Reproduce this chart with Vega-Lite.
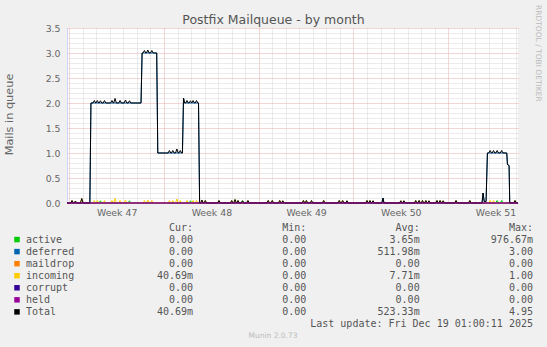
{
  "$schema": "https://vega.github.io/schema/vega-lite/v6.json",
  "width": 451,
  "height": 175,
  "autosize": {"type": "none"},
  "padding": {"left": 67, "top": 28, "right": 29, "bottom": 144},
  "background": "#f0f0f0",
  "config": {
    "view": {"fill": "#ffffff", "stroke": null},
    "font": "DejaVu Sans"
  },
  "title": {
    "text": "Postfix Mailqueue - by month",
    "font": "DejaVu Sans",
    "fontSize": 12.5,
    "fontWeight": "normal",
    "color": "#555555",
    "anchor": "middle",
    "frame": "group",
    "dx": -19,
    "dy": 31,
    "offset": 0,
    "baseline": "alphabetic"
  },
  "layer": [
    {
      "data": {
        "values": [
          {"d": -0.17, "Total": 0, "active": 0, "deferred": 0, "maildrop": 0, "incoming": 0, "corrupt": 0, "held": 0},
          {"d": 0.1, "Total": 0, "incoming": 0}, {"d": 0.2, "Total": 0.05, "incoming": 0.05}, {"d": 0.3, "Total": 0, "incoming": 0},
          {"d": 0.35, "Total": 0, "incoming": 0}, {"d": 0.45, "Total": 0.04, "incoming": 0.04}, {"d": 0.55, "Total": 0, "incoming": 0},
          {"d": 0.82, "Total": 0, "incoming": 0}, {"d": 0.92, "Total": 0.09, "incoming": 0.09}, {"d": 1.02, "Total": 0, "incoming": 0},
          {"d": 1.52, "Total": 0, "deferred": 0}, {"d": 1.6, "Total": 2, "deferred": 2},
          {"d": 1.75, "Total": 2, "incoming": 0}, {"d": 1.85, "Total": 2.05, "incoming": 0.05}, {"d": 1.95, "Total": 2, "incoming": 0},
          {"d": 1.97, "Total": 2, "incoming": 0}, {"d": 2.07, "Total": 2.05, "incoming": 0.05}, {"d": 2.17, "Total": 2, "incoming": 0},
          {"d": 2.2, "Total": 2, "active": 0}, {"d": 2.3, "Total": 2.045, "active": 0.045}, {"d": 2.4, "Total": 2, "active": 0},
          {"d": 2.5, "Total": 2, "incoming": 0}, {"d": 2.6, "Total": 2.05, "incoming": 0.05}, {"d": 2.7, "Total": 2, "incoming": 0},
          {"d": 3.05, "Total": 2, "incoming": 0}, {"d": 3.15, "Total": 2.05, "incoming": 0.05}, {"d": 3.25, "Total": 2, "incoming": 0},
          {"d": 3.28, "Total": 2, "incoming": 0}, {"d": 3.38, "Total": 2.09, "incoming": 0.09}, {"d": 3.48, "Total": 2, "incoming": 0},
          {"d": 3.65, "Total": 2, "incoming": 0}, {"d": 3.75, "Total": 2.05, "incoming": 0.05}, {"d": 3.85, "Total": 2, "incoming": 0},
          {"d": 4.05, "Total": 2, "incoming": 0}, {"d": 4.15, "Total": 2.06, "incoming": 0.06}, {"d": 4.25, "Total": 2, "incoming": 0},
          {"d": 4.35, "Total": 2, "active": 0}, {"d": 4.45, "Total": 2.045, "active": 0.045}, {"d": 4.55, "Total": 2, "active": 0},
          {"d": 5.3, "Total": 2, "deferred": 2}, {"d": 5.38, "Total": 3, "deferred": 3},
          {"d": 5.45, "Total": 3, "incoming": 0}, {"d": 5.55, "Total": 3.05, "incoming": 0.05}, {"d": 5.65, "Total": 3, "incoming": 0},
          {"d": 5.7, "Total": 3, "incoming": 0}, {"d": 5.8, "Total": 3.06, "incoming": 0.06}, {"d": 5.9, "Total": 3, "incoming": 0},
          {"d": 6.0, "Total": 3, "incoming": 0}, {"d": 6.1, "Total": 3.05, "incoming": 0.05}, {"d": 6.2, "Total": 3, "incoming": 0},
          {"d": 6.46, "Total": 3, "deferred": 3}, {"d": 6.54, "Total": 1, "deferred": 1},
          {"d": 7.3, "Total": 1, "incoming": 0}, {"d": 7.4, "Total": 1.05, "incoming": 0.05}, {"d": 7.5, "Total": 1, "incoming": 0},
          {"d": 7.55, "Total": 1, "incoming": 0}, {"d": 7.65, "Total": 1.05, "incoming": 0.05}, {"d": 7.75, "Total": 1, "incoming": 0},
          {"d": 7.85, "Total": 1, "incoming": 0}, {"d": 7.95, "Total": 1.08, "incoming": 0.08}, {"d": 8.05, "Total": 1, "incoming": 0},
          {"d": 8.1, "Total": 1, "incoming": 0}, {"d": 8.2, "Total": 1.05, "incoming": 0.05}, {"d": 8.3, "Total": 1, "incoming": 0},
          {"d": 8.36, "Total": 1, "deferred": 1}, {"d": 8.44, "Total": 2.1, "deferred": 2.1}, {"d": 8.52, "Total": 2, "deferred": 2},
          {"d": 8.6, "Total": 2, "incoming": 0}, {"d": 8.7, "Total": 2.05, "incoming": 0.05}, {"d": 8.8, "Total": 2, "incoming": 0},
          {"d": 8.85, "Total": 2, "active": 0}, {"d": 8.95, "Total": 2.045, "active": 0.045}, {"d": 9.05, "Total": 2, "active": 0, "incoming": 0},
          {"d": 9.15, "Total": 2.05, "incoming": 0.05}, {"d": 9.25, "Total": 2, "incoming": 0},
          {"d": 9.3, "Total": 2, "incoming": 0}, {"d": 9.4, "Total": 2.05, "incoming": 0.05}, {"d": 9.5, "Total": 2, "incoming": 0},
          {"d": 9.55, "Total": 2, "deferred": 2}, {"d": 9.63, "Total": 0, "deferred": 0},
          {"d": 9.7, "Total": 0, "incoming": 0}, {"d": 9.8, "Total": 0.06, "incoming": 0.06}, {"d": 9.9, "Total": 0, "incoming": 0},
          {"d": 9.95, "Total": 0, "incoming": 0}, {"d": 10.05, "Total": 0.05, "incoming": 0.05}, {"d": 10.15, "Total": 0, "incoming": 0},
          {"d": 10.96, "Total": 0, "incoming": 0}, {"d": 11.06, "Total": 0.05, "incoming": 0.05}, {"d": 11.16, "Total": 0, "incoming": 0},
          {"d": 11.9, "Total": 0, "incoming": 0}, {"d": 12.0, "Total": 0.05, "incoming": 0.05}, {"d": 12.1, "Total": 0, "incoming": 0},
          {"d": 12.15, "Total": 0, "incoming": 0}, {"d": 12.25, "Total": 0.07, "incoming": 0.07}, {"d": 12.35, "Total": 0, "incoming": 0},
          {"d": 12.37, "Total": 0, "incoming": 0}, {"d": 12.47, "Total": 0.05, "incoming": 0.05}, {"d": 12.57, "Total": 0, "incoming": 0},
          {"d": 12.7, "Total": 0, "active": 0}, {"d": 12.8, "Total": 0.045, "active": 0.045}, {"d": 12.9, "Total": 0, "active": 0},
          {"d": 13.1, "Total": 0, "incoming": 0}, {"d": 13.2, "Total": 0.05, "incoming": 0.05}, {"d": 13.3, "Total": 0, "incoming": 0},
          {"d": 14.6, "Total": 0, "incoming": 0}, {"d": 14.7, "Total": 0.05, "incoming": 0.05}, {"d": 14.8, "Total": 0, "incoming": 0},
          {"d": 14.9, "Total": 0, "incoming": 0}, {"d": 15.0, "Total": 0.05, "incoming": 0.05}, {"d": 15.1, "Total": 0, "incoming": 0},
          {"d": 15.45, "Total": 0, "incoming": 0}, {"d": 15.55, "Total": 0.05, "incoming": 0.05}, {"d": 15.65, "Total": 0, "incoming": 0},
          {"d": 15.68, "Total": 0, "incoming": 0}, {"d": 15.78, "Total": 0.045, "incoming": 0.045}, {"d": 15.88, "Total": 0, "incoming": 0},
          {"d": 17.2, "Total": 0, "incoming": 0}, {"d": 17.3, "Total": 0.05, "incoming": 0.05}, {"d": 17.4, "Total": 0, "incoming": 0},
          {"d": 17.42, "Total": 0, "incoming": 0}, {"d": 17.52, "Total": 0.05, "incoming": 0.05}, {"d": 17.62, "Total": 0, "incoming": 0},
          {"d": 17.8, "Total": 0, "incoming": 0}, {"d": 17.9, "Total": 0.05, "incoming": 0.05}, {"d": 18.0, "Total": 0, "incoming": 0},
          {"d": 18.7, "Total": 0, "incoming": 0}, {"d": 18.8, "Total": 0.05, "incoming": 0.05}, {"d": 18.9, "Total": 0, "incoming": 0},
          {"d": 19.85, "Total": 0, "incoming": 0}, {"d": 19.95, "Total": 0.05, "incoming": 0.05}, {"d": 20.05, "Total": 0, "incoming": 0},
          {"d": 20.1, "Total": 0, "incoming": 0}, {"d": 20.2, "Total": 0.05, "incoming": 0.05}, {"d": 20.3, "Total": 0, "incoming": 0},
          {"d": 20.42, "Total": 0, "incoming": 0}, {"d": 20.52, "Total": 0.045, "incoming": 0.045}, {"d": 20.62, "Total": 0, "incoming": 0},
          {"d": 21.9, "Total": 0, "incoming": 0}, {"d": 22.0, "Total": 0.05, "incoming": 0.05}, {"d": 22.1, "Total": 0, "incoming": 0},
          {"d": 22.12, "Total": 0, "incoming": 0}, {"d": 22.22, "Total": 0.05, "incoming": 0.05}, {"d": 22.32, "Total": 0, "incoming": 0},
          {"d": 22.35, "Total": 0, "incoming": 0}, {"d": 22.45, "Total": 0.045, "incoming": 0.045}, {"d": 22.55, "Total": 0, "incoming": 0},
          {"d": 23.1, "Total": 0, "deferred": 0}, {"d": 23.18, "Total": 0.1, "deferred": 0.1}, {"d": 23.26, "Total": 0, "deferred": 0},
          {"d": 24.4, "Total": 0, "incoming": 0}, {"d": 24.5, "Total": 0.045, "incoming": 0.045}, {"d": 24.6, "Total": 0, "incoming": 0},
          {"d": 24.63, "Total": 0, "incoming": 0}, {"d": 24.73, "Total": 0.045, "incoming": 0.045}, {"d": 24.83, "Total": 0, "incoming": 0},
          {"d": 25.5, "Total": 0, "incoming": 0}, {"d": 25.6, "Total": 0.05, "incoming": 0.05}, {"d": 25.7, "Total": 0, "incoming": 0},
          {"d": 25.75, "Total": 0, "incoming": 0}, {"d": 25.85, "Total": 0.05, "incoming": 0.05}, {"d": 25.95, "Total": 0, "incoming": 0},
          {"d": 26.0, "Total": 0, "incoming": 0}, {"d": 26.1, "Total": 0.05, "incoming": 0.05}, {"d": 26.2, "Total": 0, "incoming": 0},
          {"d": 26.25, "Total": 0, "incoming": 0}, {"d": 26.35, "Total": 0.05, "incoming": 0.05}, {"d": 26.45, "Total": 0, "incoming": 0},
          {"d": 26.48, "Total": 0, "incoming": 0}, {"d": 26.58, "Total": 0.045, "incoming": 0.045}, {"d": 26.68, "Total": 0, "incoming": 0},
          {"d": 27.07, "Total": 0, "incoming": 0}, {"d": 27.17, "Total": 0.05, "incoming": 0.05}, {"d": 27.27, "Total": 0, "incoming": 0},
          {"d": 27.3, "Total": 0, "incoming": 0}, {"d": 27.4, "Total": 0.05, "incoming": 0.05}, {"d": 27.5, "Total": 0, "incoming": 0},
          {"d": 27.53, "Total": 0, "incoming": 0}, {"d": 27.63, "Total": 0.045, "incoming": 0.045}, {"d": 27.73, "Total": 0, "incoming": 0},
          {"d": 28.48, "Total": 0, "incoming": 0}, {"d": 28.58, "Total": 0.05, "incoming": 0.05}, {"d": 28.68, "Total": 0, "incoming": 0},
          {"d": 29.5, "Total": 0, "incoming": 0}, {"d": 29.6, "Total": 0.05, "incoming": 0.05}, {"d": 29.7, "Total": 0, "incoming": 0},
          {"d": 30.5, "Total": 0, "deferred": 0}, {"d": 30.58, "Total": 0.2, "deferred": 0.2}, {"d": 30.66, "Total": 0.03, "deferred": 0.03},
          {"d": 30.8, "Total": 0.03, "deferred": 0.03}, {"d": 30.9, "Total": 1, "deferred": 1},
          {"d": 31.0, "Total": 1, "incoming": 0}, {"d": 31.1, "Total": 1.05, "incoming": 0.05}, {"d": 31.2, "Total": 1, "incoming": 0},
          {"d": 31.25, "Total": 1, "incoming": 0}, {"d": 31.35, "Total": 1.05, "incoming": 0.05}, {"d": 31.45, "Total": 1, "incoming": 0},
          {"d": 31.52, "Total": 1, "active": 0}, {"d": 31.62, "Total": 1.05, "active": 0.05}, {"d": 31.72, "Total": 1, "active": 0},
          {"d": 31.85, "Total": 1, "active": 0}, {"d": 31.95, "Total": 1.05, "active": 0.05}, {"d": 32.05, "Total": 1, "active": 0},
          {"d": 32.33, "Total": 1, "deferred": 1}, {"d": 32.38, "Total": 0.77, "deferred": 0.77}, {"d": 32.5, "Total": 0.75, "deferred": 0.75},
          {"d": 32.55, "Total": 0, "deferred": 0},
          {"d": 32.84, "Total": 0, "incoming": 0}, {"d": 32.94, "Total": 0.05, "incoming": 0.05}, {"d": 33.04, "Total": 0, "incoming": 0},
          {"d": 33.16, "Total": 0, "active": 0, "deferred": 0, "maildrop": 0, "incoming": 0, "corrupt": 0, "held": 0}
        ]
      },
      "transform": [
        {"fold": ["active", "deferred", "maildrop", "incoming", "corrupt", "held", "Total"], "as": ["s", "v"]}
      ],
      "encoding": {
        "x": {
          "field": "d",
          "type": "quantitative",
          "scale": {"domain": [-0.17, 33.16], "nice": false, "zero": false},
          "axis": {
            "title": null,
            "values": [0, 1, 2, 3, 3.5, 4, 5, 6, 7, 8, 9, 10, 10.5, 11, 12, 13, 14, 15, 16, 17, 17.5, 18, 19, 20, 21, 22, 23, 24, 24.5, 25, 26, 27, 28, 29, 30, 31, 31.5, 32, 33],
            "labelExpr": "datum.value % 7 === 3.5 ? 'Week ' + (47 + floor(datum.value / 7)) : ''",
            "labelOverlap": false,
            "labelFlush": false,
            "labelBound": false,
            "labelFont": "DejaVu Sans",
            "labelFontSize": 9.33,
            "labelColor": "#666666",
            "labelPadding": 5,
            "ticks": false,
            "domainColor": "#CFD6F8",
            "domainWidth": 1,
            "grid": true,
            "gridDash": [1, 1],
            "gridWidth": 1,
            "gridColor": {"condition": {"test": "datum.value % 7 === 0", "value": "#e6acac"}, "value": "#d6d6d6"},
            "gridOpacity": {"condition": {"test": "datum.value % 1 !== 0", "value": 0}, "value": 1}
          }
        },
        "y": {
          "field": "v",
          "type": "quantitative",
          "scale": {"domain": [0, 3.5], "nice": false, "zero": true},
          "axis": {
            "title": "Mails in queue",
            "titleFont": "DejaVu Sans",
            "titleFontSize": 11.3,
            "titleFontWeight": "normal",
            "titleColor": "#666666",
            "titleAngle": 270,
            "titleAlign": "center",
            "titleBaseline": "middle",
            "titleX": -57.5,
            "titleY": 86,
            "values": [0, 0.1, 0.2, 0.3, 0.4, 0.5, 0.6, 0.7, 0.8, 0.9, 1, 1.1, 1.2, 1.3, 1.4, 1.5, 1.6, 1.7, 1.8, 1.9, 2, 2.1, 2.2, 2.3, 2.4, 2.5, 2.6, 2.7, 2.8, 2.9, 3, 3.1, 3.2, 3.3, 3.4, 3.5],
            "labelExpr": "round(datum.value * 10) % 5 === 0 ? format(datum.value, '.1f') : ''",
            "labelOverlap": false,
            "labelFlush": false,
            "labelBound": false,
            "labelFont": "DejaVu Sans",
            "labelFontSize": 9.33,
            "labelColor": "#666666",
            "labelPadding": 7,
            "ticks": false,
            "domainColor": "#CFD6F8",
            "domainWidth": 1,
            "grid": true,
            "gridDash": [1, 1],
            "gridWidth": 1,
            "gridColor": {"condition": {"test": "round(datum.value * 10) % 5 === 0", "value": "#e6acac"}, "value": "#d6d6d6"}
          }
        }
      },
      "layer": [
        {"transform": [{"filter": "datum.s === 'active'"}], "mark": {"type": "line", "color": "#00cc00", "strokeWidth": 1, "invalid": "filter"}},
        {"transform": [{"filter": "datum.s === 'deferred'"}], "mark": {"type": "line", "color": "#0066b3", "strokeWidth": 1, "invalid": "filter"}},
        {"transform": [{"filter": "datum.s === 'maildrop'"}], "mark": {"type": "line", "color": "#ff8000", "strokeWidth": 1, "invalid": "filter"}},
        {"transform": [{"filter": "datum.s === 'incoming'"}], "mark": {"type": "line", "color": "#ffcc00", "strokeWidth": 1, "invalid": "filter"}},
        {"transform": [{"filter": "datum.s === 'corrupt'"}], "mark": {"type": "line", "color": "#330099", "strokeWidth": 1, "invalid": "filter"}},
        {"transform": [{"filter": "datum.s === 'Total'"}], "mark": {"type": "line", "color": "#000000", "strokeWidth": 1, "invalid": "filter"}},
        {"transform": [{"filter": "datum.s === 'held'"}], "mark": {"type": "line", "color": "#990099", "strokeWidth": 1, "invalid": "filter"}}
      ]
    },
    {
      "data": {
        "values": [
          {"row": "active", "col": "name", "text": "active"},
          {"row": "deferred", "col": "name", "text": "deferred"},
          {"row": "maildrop", "col": "name", "text": "maildrop"},
          {"row": "incoming", "col": "name", "text": "incoming"},
          {"row": "corrupt", "col": "name", "text": "corrupt"},
          {"row": "held", "col": "name", "text": "held"},
          {"row": "Total", "col": "name", "text": "Total"},
          {"row": "hdr", "col": "cur", "text": "Cur:\u00a0\u00a0"},
          {"row": "hdr", "col": "min", "text": "Min:\u00a0\u00a0"},
          {"row": "hdr", "col": "avg", "text": "Avg:\u00a0\u00a0"},
          {"row": "hdr", "col": "max", "text": "Max:\u00a0\u00a0"},
          {"row": "active", "col": "cur", "text": "0.00\u00a0"},
          {"row": "active", "col": "min", "text": "0.00\u00a0"},
          {"row": "active", "col": "avg", "text": "3.65m"},
          {"row": "active", "col": "max", "text": "976.67m"},
          {"row": "deferred", "col": "cur", "text": "0.00\u00a0"},
          {"row": "deferred", "col": "min", "text": "0.00\u00a0"},
          {"row": "deferred", "col": "avg", "text": "511.98m"},
          {"row": "deferred", "col": "max", "text": "3.00\u00a0"},
          {"row": "maildrop", "col": "cur", "text": "0.00\u00a0"},
          {"row": "maildrop", "col": "min", "text": "0.00\u00a0"},
          {"row": "maildrop", "col": "avg", "text": "0.00\u00a0"},
          {"row": "maildrop", "col": "max", "text": "0.00\u00a0"},
          {"row": "incoming", "col": "cur", "text": "40.69m"},
          {"row": "incoming", "col": "min", "text": "0.00\u00a0"},
          {"row": "incoming", "col": "avg", "text": "7.71m"},
          {"row": "incoming", "col": "max", "text": "1.00\u00a0"},
          {"row": "corrupt", "col": "cur", "text": "0.00\u00a0"},
          {"row": "corrupt", "col": "min", "text": "0.00\u00a0"},
          {"row": "corrupt", "col": "avg", "text": "0.00\u00a0"},
          {"row": "corrupt", "col": "max", "text": "0.00\u00a0"},
          {"row": "held", "col": "cur", "text": "0.00\u00a0"},
          {"row": "held", "col": "min", "text": "0.00\u00a0"},
          {"row": "held", "col": "avg", "text": "0.00\u00a0"},
          {"row": "held", "col": "max", "text": "0.00\u00a0"},
          {"row": "Total", "col": "cur", "text": "40.69m"},
          {"row": "Total", "col": "min", "text": "0.00\u00a0"},
          {"row": "Total", "col": "avg", "text": "523.33m"},
          {"row": "Total", "col": "max", "text": "4.95\u00a0"},
          {"row": "upd", "col": "max", "text": "Last update: Fri Dec 19 01:00:11 2025"},
          {"row": "munin", "col": "footer", "text": "Munin 2.0.73"}
        ]
      },
      "encoding": {
        "y": {
          "field": "row",
          "type": "nominal",
          "scale": {"type": "point", "domain": ["hdr", "active", "deferred", "maildrop", "incoming", "corrupt", "held", "Total", "upd", "munin"], "range": [199.5, 308], "padding": 0},
          "axis": null
        }
      },
      "layer": [
        {
          "transform": [{"filter": "datum.col === 'name'"}],
          "mark": {"type": "square", "size": 30, "filled": true, "opacity": 1, "strokeWidth": 0},
          "encoding": {
            "x": {"datum": "swatch", "type": "nominal", "scale": {"type": "point", "domain": ["swatch", "name"], "range": [-50, -41], "padding": 0}, "axis": null},
            "color": {
              "field": "row",
              "type": "nominal",
              "scale": {"domain": ["active", "deferred", "maildrop", "incoming", "corrupt", "held", "Total"], "range": ["#00cc00", "#0066b3", "#ff8000", "#ffcc00", "#330099", "#990099", "#000000"]},
              "legend": null
            }
          }
        },
        {
          "transform": [{"filter": "datum.col === 'name'"}],
          "mark": {"type": "text", "align": "left", "baseline": "middle", "font": "DejaVu Sans Mono", "fontSize": 10, "color": "#555555"},
          "encoding": {
            "x": {"datum": "name", "type": "nominal", "scale": {"type": "point", "domain": ["swatch", "name"], "range": [-50, -41], "padding": 0}, "axis": null},
            "text": {"field": "text"}
          }
        },
        {
          "transform": [{"filter": "indexof(['cur','min','avg','max'], datum.col) >= 0"}],
          "mark": {"type": "text", "align": "right", "baseline": "middle", "font": "DejaVu Sans Mono", "fontSize": 10, "color": "#555555"},
          "encoding": {
            "x": {"field": "col", "type": "nominal", "scale": {"type": "point", "domain": ["cur", "min", "avg", "max"], "range": [126, 466], "padding": 0}, "axis": null},
            "text": {"field": "text"}
          }
        },
        {
          "transform": [{"filter": "datum.col === 'footer'"}],
          "mark": {"type": "text", "align": "center", "baseline": "middle", "font": "DejaVu Sans", "fontSize": 7.5, "color": "#bbbbbb"},
          "encoding": {
            "x": {"field": "col", "type": "nominal", "scale": {"type": "point", "domain": ["footer"], "range": [206, 206], "padding": 0}, "axis": null},
            "text": {"field": "text"}
          }
        }
      ],
      "resolve": {"scale": {"x": "independent"}}
    },
    {
      "data": {"values": [{"who": "credit", "text": "RRDTOOL / TOBI OETIKER"}]},
      "mark": {"type": "text", "align": "left", "baseline": "middle", "angle": 90, "font": "DejaVu Sans", "fontSize": 7.5, "color": "#bbbbbb"},
      "encoding": {
        "x": {"field": "who", "type": "nominal", "scale": {"type": "point", "domain": ["credit"], "range": [470.5, 470.5], "padding": 0}, "axis": null},
        "y": {"field": "who", "type": "nominal", "scale": {"type": "point", "domain": ["credit"], "range": [-23, -23], "padding": 0}, "axis": null},
        "text": {"field": "text"}
      }
    }
  ],
  "resolve": {"scale": {"x": "independent", "y": "independent", "color": "independent"}}
}
